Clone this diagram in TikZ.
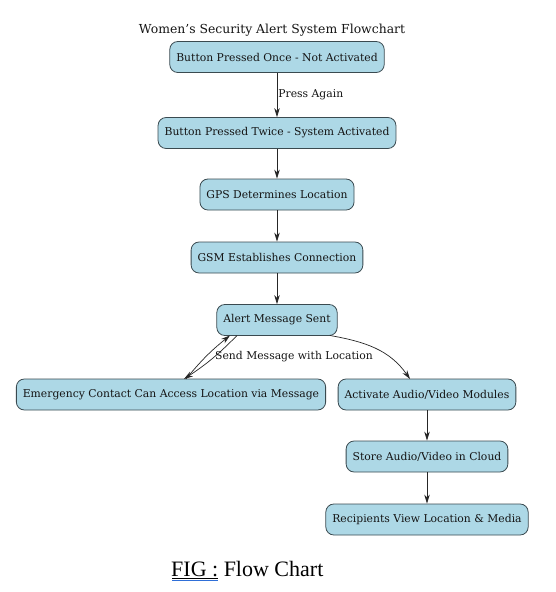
\documentclass[tikz,border=0pt]{standalone}
\usepackage{fontspec}
\setmainfont{DejaVu Serif}
\newfontfamily\capfont{Liberation Serif}
\usetikzlibrary{arrows.meta,positioning}
\definecolor{boxfill}{HTML}{ADD8E6}
\definecolor{boxline}{HTML}{3A4A50}
\definecolor{ulblue}{HTML}{2F6FD8}
\tikzset{
  box/.style={draw=boxline, fill=boxfill, rounded corners=8pt, line width=0.8pt,
    minimum height=31pt, inner xsep=6.5pt, font=\fontsize{10.8}{12}\selectfont, text=black!92},
  flow/.style={draw=black!85, line width=0.7pt, -{Stealth[length=9pt,width=5.5pt]}},
  lbl/.style={font=\fontsize{10.8}{12}\selectfont, text=black!92}
}
\begin{document}
\begin{tikzpicture}[x=1pt,y=1pt]
\useasboundingbox (0,0) rectangle (555,-592);
\node[lbl, font=\fontsize{12.4}{14}\selectfont] (title) at (272,-30) {Women\symbol{39}s Security Alert System Flowchart};
\node[box] (n1) at (277,-57) {Button Pressed Once - Not Activated};
\node[box] (n2) at (277,-133) {Button Pressed Twice - System Activated};
\node[box] (n3) at (277,-194.5) {GPS Determines Location};
\node[box] (n4) at (277,-257.5) {GSM Establishes Connection};
\node[box] (n5) at (277,-320) {Alert Message Sent};
\node[box] (n6) at (171,-394.5) {Emergency Contact Can Access Location via Message};
\node[box] (n7) at (427,-394.5) {Activate Audio/Video Modules};
\node[box] (n8) at (427,-456.5) {Store Audio/Video in Cloud};
\node[box] (n9) at (427,-519.5) {Recipients View Location \& Media};
\draw[flow] (n1) -- node[lbl, right, inner sep=1pt] {Press Again} (n2);
\draw[flow] (n2) -- (n3);
\draw[flow] (n3) -- (n4);
\draw[flow] (n4) -- (n5);
\coordinate (a1) at (237,-335.5);
\coordinate (a2) at (230,-335.5);
\coordinate (e1) at (184,-379);
\coordinate (e2) at (186,-379);
\draw[flow] (a1) to[bend left=6] (e1);
\draw[flow] (e2) to[bend left=6] (a2);
\node[lbl] (sm) at (294,-357) {Send Message with Location};
\coordinate (a3) at (330,-335.5);
\coordinate (e3) at (410,-379);
\draw[flow] (a3) to[out=-10,in=125] (e3);
\draw[flow] (n7) -- (n8);
\draw[flow] (n8) -- (n9);
\node[font=\capfont\fontsize{22}{25}\selectfont, anchor=west, inner sep=0pt] (cap) at (171,-569) {FIG : Flow Chart};
\draw[black, line width=0.7pt] (172,-578) -- (218,-578);
\draw[ulblue, line width=0.8pt] (172,-580.5) -- (218,-580.5);
\end{tikzpicture}
\end{document}
